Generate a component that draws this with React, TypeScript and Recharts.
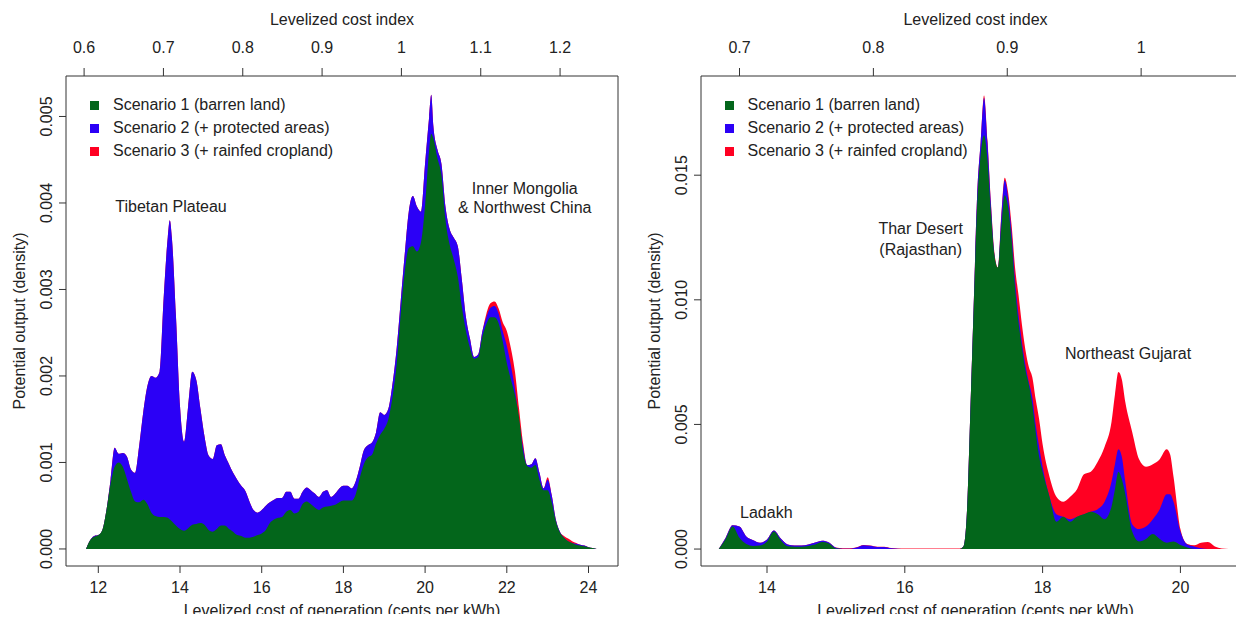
import React from 'react';
import { AreaChart, Area, XAxis, YAxis, Legend, ReferenceArea, ReferenceDot } from 'recharts';

// ---- China (left panel) ----
const chinaCost = [
  11.7, 11.8, 11.9, 12.0, 12.1, 12.2, 12.3, 12.4, 12.5, 12.6,
  12.7, 12.8, 12.9, 13.0, 13.1, 13.2, 13.3, 13.4, 13.5, 13.6,
  13.7, 13.75, 13.8, 13.9, 14.0, 14.1, 14.2, 14.3, 14.4, 14.5,
  14.6, 14.7, 14.8, 14.9, 15.0, 15.1, 15.2, 15.3, 15.4, 15.5,
  15.6, 15.7, 15.8, 15.9, 16.0, 16.1, 16.2, 16.3, 16.4, 16.5,
  16.6, 16.7, 16.8, 16.9, 17.0, 17.1, 17.2, 17.3, 17.4, 17.5,
  17.6, 17.7, 17.8, 17.9, 18.0, 18.1, 18.2, 18.3, 18.4, 18.5,
  18.6, 18.7, 18.8, 18.9, 19.0, 19.1, 19.2, 19.3, 19.4, 19.5,
  19.6, 19.7, 19.8, 19.9, 20.0, 20.1, 20.15, 20.2, 20.3, 20.4,
  20.5, 20.6, 20.7, 20.8, 20.9, 21.0, 21.1, 21.2, 21.3, 21.4,
  21.5, 21.6, 21.7, 21.8, 21.9, 22.0, 22.1, 22.2, 22.3, 22.4,
  22.5, 22.6, 22.7, 22.8, 22.9, 23.0, 23.1, 23.2, 23.3, 23.4,
  23.5, 23.6, 23.7, 23.8, 23.9, 24.0, 24.1, 24.2,
];
const chinaBarren = [
  0, 0.0001, 0.00014, 0.00016, 0.00022, 0.00045, 0.00075, 0.00095, 0.001, 0.00095,
  0.00081, 0.00066, 0.00055, 0.00054, 0.00057, 0.00052, 0.00042, 0.00038, 0.00037, 0.00037,
  0.00036, 0.00034, 0.00032, 0.00027, 0.00023, 0.00021, 0.00024, 0.00028, 0.00029, 0.0003,
  0.00028, 0.00022, 0.0002, 0.00023, 0.00027, 0.00027, 0.00023, 0.0002, 0.00016, 0.00015,
  0.00013, 0.00013, 0.00014, 0.00016, 0.00018, 0.00022, 0.0003, 0.00034, 0.00036, 0.00037,
  0.00043, 0.00045, 0.00041, 0.00043, 0.00052, 0.00055, 0.00052, 0.00048, 0.00045, 0.00048,
  0.00049, 0.0005, 0.00051, 0.00054, 0.00056, 0.00056, 0.00056, 0.00063, 0.00082, 0.00098,
  0.00106, 0.00109, 0.00122, 0.00132, 0.00139, 0.0015, 0.00175, 0.00212, 0.0027, 0.0032,
  0.00348, 0.0035, 0.00344, 0.00355, 0.00398, 0.00462, 0.0048, 0.00475, 0.00452, 0.00432,
  0.0038, 0.00352, 0.00335, 0.00315, 0.0028, 0.00252, 0.00232, 0.0022, 0.00222, 0.00245,
  0.0026, 0.00268, 0.00268, 0.00261, 0.0024, 0.00215, 0.00196, 0.00178, 0.00152, 0.00112,
  0.00096, 0.00094, 0.00097, 0.0008, 0.00068, 0.00068, 0.00054, 0.00032, 0.00019, 0.00013,
  0.00009, 0.00007, 0.00005, 0.00004, 0.00003, 0.00002, 0.00001, 0,
];
const chinaProtected = [
  0, 0.0001, 0.00015, 0.00016, 0.00022, 0.00045, 0.0008, 0.00117, 0.0011, 0.00111,
  0.00107, 0.00092, 0.00088, 0.00119, 0.00158, 0.00188, 0.002, 0.00198, 0.00205, 0.0029,
  0.0036, 0.0038, 0.0036, 0.0027, 0.00165, 0.00124, 0.00165, 0.00205, 0.00195, 0.00162,
  0.0013, 0.00108, 0.00104, 0.0012, 0.00121, 0.00108, 0.00098, 0.00088, 0.0008, 0.00073,
  0.00067, 0.00055, 0.00045, 0.00042, 0.00045, 0.0005, 0.00054, 0.00057, 0.00059, 0.00059,
  0.00066, 0.00066, 0.00058, 0.00058, 0.00066, 0.00071, 0.00068, 0.00064, 0.0006, 0.00066,
  0.00068, 0.0006, 0.00064, 0.0007, 0.00073, 0.00073, 0.0007, 0.00078, 0.00095, 0.00114,
  0.0012, 0.00123, 0.00135, 0.00158, 0.00155, 0.00162, 0.0019, 0.0023, 0.00285, 0.0034,
  0.0039, 0.00408, 0.00396, 0.0039, 0.00446, 0.005, 0.00525, 0.0049, 0.00462, 0.00445,
  0.00395, 0.0037, 0.0036, 0.0035, 0.00311, 0.00268, 0.00243, 0.00222, 0.00225, 0.00251,
  0.00268, 0.00279, 0.00281, 0.00272, 0.00252, 0.00235, 0.00212, 0.00185, 0.00148, 0.00117,
  0.00097, 0.00098, 0.00105, 0.00088, 0.0007, 0.0008, 0.00062, 0.00034, 0.0002, 0.00013,
  0.00009, 0.00007, 0.00006, 0.00005, 0.00004, 0.00002, 0.00001, 0,
];
const chinaCropland = [
  0, 0.0001, 0.00015, 0.00016, 0.00022, 0.00045, 0.0008, 0.00117, 0.0011, 0.00111,
  0.00107, 0.00092, 0.00088, 0.00119, 0.00158, 0.00188, 0.002, 0.00198, 0.00205, 0.0029,
  0.0036, 0.0038, 0.0036, 0.0027, 0.00165, 0.00124, 0.00165, 0.00205, 0.00195, 0.00162,
  0.0013, 0.00108, 0.00104, 0.0012, 0.00121, 0.00108, 0.00098, 0.00088, 0.0008, 0.00073,
  0.00067, 0.00055, 0.00045, 0.00042, 0.00045, 0.0005, 0.00054, 0.00057, 0.00059, 0.00059,
  0.00066, 0.00066, 0.00058, 0.00058, 0.00066, 0.00071, 0.00068, 0.00064, 0.0006, 0.00066,
  0.00068, 0.0006, 0.00064, 0.0007, 0.00073, 0.00073, 0.0007, 0.00078, 0.00095, 0.00114,
  0.0012, 0.00123, 0.00135, 0.00158, 0.00155, 0.00162, 0.0019, 0.0023, 0.00285, 0.0034,
  0.0039, 0.00408, 0.00396, 0.0039, 0.00446, 0.005, 0.00525, 0.0049, 0.00462, 0.00445,
  0.00395, 0.0037, 0.0036, 0.0035, 0.00311, 0.00268, 0.00243, 0.00222, 0.00225, 0.00251,
  0.00272, 0.00284, 0.00286, 0.00278, 0.00262, 0.00252, 0.00232, 0.00205, 0.00162, 0.00122,
  0.00097, 0.00098, 0.00105, 0.00088, 0.0007, 0.00083, 0.00062, 0.00034, 0.0002, 0.00015,
  0.00012, 0.00009, 0.00007, 0.00005, 0.00004, 0.00002, 0.00001, 0,
];

// ---- India (right panel) ----
const indiaCost = [
  13.3, 13.4, 13.5, 13.6, 13.7, 13.8, 13.9, 14.0, 14.1, 14.2,
  14.3, 14.4, 14.5, 14.6, 14.7, 14.8, 14.9, 15.0, 15.1, 15.2,
  15.3, 15.4, 15.5, 15.6, 15.7, 15.8, 15.9, 16.0,
  16.2, 16.4, 16.6, 16.8,
  16.85, 16.9, 16.95, 17.0, 17.05, 17.1, 17.15, 17.2, 17.25, 17.3,
  17.35, 17.4, 17.45, 17.5, 17.55, 17.6, 17.65, 17.7, 17.75, 17.8,
  17.85, 17.9, 17.95,
  18.0, 18.1, 18.2, 18.3, 18.4, 18.5, 18.6, 18.7, 18.8, 18.9, 19.0,
  19.05, 19.1, 19.15, 19.2,
  19.3, 19.4, 19.5, 19.6, 19.7, 19.8,
  19.85, 19.9,
  20.0, 20.1, 20.2, 20.3, 20.4, 20.5, 20.6, 20.7,
];
const indiaBarren = [
  0, 0.0004, 0.0009, 0.00045, 0.0002, 0.00012, 0.00014, 0.0003, 0.0007, 0.00035,
  0.00011, 0.00009, 0.00009, 0.00012, 0.00018, 0.00028, 0.00022, 0.00002, 0, 0,
  0, 0, 0, 0, 0, 0, 0, 0,
  0, 0, 0, 0,
  0.0001, 0.0014, 0.0054, 0.0097, 0.0138, 0.0158, 0.0166, 0.0156, 0.0135, 0.0118,
  0.0113, 0.0129, 0.0142, 0.0137, 0.0124, 0.0105, 0.0091, 0.0081, 0.0072, 0.0066,
  0.0058, 0.0047, 0.0037,
  0.0031, 0.0021, 0.0011, 0.0013, 0.0011, 0.0013, 0.0014, 0.0015, 0.0014, 0.0012, 0.0017,
  0.0024, 0.0031, 0.0028, 0.0022,
  0.0007, 0.0003, 0.0004, 0.0006, 0.0004, 0.00025,
  0.00028, 0.0003,
  0.00016, 0.00006, 0, 0, 0, 0, 0, 0,
];
const indiaProtected = [
  0, 0.00045, 0.00095, 0.0009, 0.0005, 0.00035, 0.00025, 0.00038, 0.00074, 0.00042,
  0.00018, 0.00014, 0.00014, 0.00018, 0.00026, 0.00033, 0.00026, 0.00005, 0.00001, 0.00001,
  0.00006, 0.00015, 0.00013, 0.00008, 0.00008, 0.00003, 0.00001, 0,
  0, 0, 0, 0,
  0.0001, 0.0014, 0.0054, 0.0098, 0.0142, 0.0163, 0.0181, 0.0163, 0.0138, 0.0118,
  0.0112, 0.0133, 0.0148, 0.0141, 0.0127, 0.0108, 0.0094, 0.0083, 0.0074, 0.0067,
  0.0061, 0.005, 0.0041,
  0.0033, 0.0021, 0.0014, 0.0013, 0.0012, 0.0013, 0.0014, 0.0015, 0.0016, 0.0019, 0.0027,
  0.0034, 0.004, 0.0037, 0.0027,
  0.001, 0.0008, 0.0009, 0.0012, 0.0016, 0.0022,
  0.0022, 0.0019,
  0.0007, 0.00018, 0.0001, 0.00003, 0, 0, 0, 0,
];
const indiaCropland = [
  0, 0.00045, 0.00095, 0.0009, 0.0005, 0.00035, 0.00025, 0.00038, 0.00074, 0.00042,
  0.00018, 0.00014, 0.00014, 0.00018, 0.00026, 0.00033, 0.00026, 0.00006, 0.00003, 0.00003,
  0.00007, 0.00016, 0.00014, 0.00009, 0.00009, 0.00004, 0.00002, 0.00002,
  0.00002, 0.00002, 0.00002, 0.00002,
  0.0001, 0.0014, 0.0054, 0.0098, 0.0142, 0.0163, 0.0182, 0.0164, 0.0139, 0.0119,
  0.0113, 0.0134, 0.0149, 0.0143, 0.013, 0.0113, 0.0102, 0.009, 0.008, 0.0073,
  0.0069, 0.006, 0.0052,
  0.0042, 0.0029, 0.0021, 0.0019, 0.0021, 0.0024, 0.003, 0.0031, 0.0035, 0.0041, 0.0051,
  0.0062, 0.0071, 0.0068, 0.0059,
  0.0047, 0.0036, 0.0033, 0.0034, 0.0036, 0.004,
  0.0038, 0.0029,
  0.0008, 0.0002, 0.00015, 0.00025, 0.00028, 0.0001, 0.00002, 0,
];

// axis ticks
const chinaCostTicks = [12, 14, 16, 18, 20, 22, 24];
const chinaDensityTicks = [0, 0.001, 0.002, 0.003, 0.004, 0.005];
const chinaIndexLabels = ['0.6', '0.7', '0.8', '0.9', '1', '1.1', '1.2'];
const chinaRefCost = 19.42; // cents/kWh at index = 1

const indiaCostTicks = [14, 16, 18, 20];
const indiaDensityTicks = [0, 0.005, 0.01, 0.015];
const indiaIndexLabels = ['0.7', '0.8', '0.9', '1'];
const indiaRefCost = 19.43;

const scenarioNames = [
  'Scenario 1 (barren land)',
  'Scenario 2 (+ protected areas)',
  'Scenario 3 (+ rainfed cropland)',
];

const chinaNotes = [
  { text: 'Tibetan Plateau', cost: 13.78, density: 0.00396 },
  { text: 'Inner Mongolia', cost: 22.44, density: 0.00417 },
  { text: '& Northwest China', cost: 22.44, density: 0.00395 },
];
const indiaNotes = [
  { text: 'Thar Desert', cost: 16.23, density: 0.01288 },
  { text: '(Rajasthan)', cost: 16.23, density: 0.01204 },
  { text: 'Northeast Gujarat', cost: 19.24, density: 0.00787 },
  { text: 'Ladakh', cost: 13.99, density: 0.00148 },
];

const GREEN = '#03661b';
const BLUE = '#2b00f6';
const RED = '#ff0022';
const INK = '#222';
const FRAME = '#333';
const FONT = '"Liberation Sans", Arial, Helvetica, sans-serif';
const CHART_H = 622;

const series = [
  { key: 's3', name: scenarioNames[2], color: RED },
  { key: 's2', name: scenarioNames[1], color: BLUE },
  { key: 's1', name: scenarioNames[0], color: GREEN },
];

function buildRows(cost: number[], s1: number[], s2: number[], s3: number[]) {
  return cost.map((c, i) => ({ cost: c, s1: s1[i], s2: s2[i], s3: s3[i] }));
}

function DensityTick(props: any) {
  const { x, y, payload, digits } = props;
  const bx = x - 4.5;
  return (
    <text x={bx} y={y} transform={`rotate(-90 ${bx} ${y})`} textAnchor="middle"
      fontSize={16} fill={INK} fontFamily={FONT}>
      {Number(payload.value).toFixed(digits)}
    </text>
  );
}

function LegendBox(props: any) {
  const items = [...(props.payload ?? [])].sort((a: any, b: any) =>
    String(a.value).localeCompare(String(b.value)));
  return (
    <div style={{ fontFamily: FONT, fontSize: 16, color: INK }}>
      {items.map((it: any) => {
        const s = series.find(d => d.key === it.dataKey);
        return (
          <div key={it.value} style={{ display: 'flex', alignItems: 'center', height: 23, whiteSpace: 'nowrap' }}>
            <span style={{ display: 'inline-block', width: 9, height: 9, background: s ? s.color : it.color, marginRight: 14 }} />
            <span>{it.value}</span>
          </div>
        );
      })}
    </div>
  );
}

interface PanelProps {
  width: number;
  yAxisWidth: number;
  rightMargin: number;
  xDomain: [number, number];
  yDomain: [number, number];
  costTicks: number[];
  densityTicks: number[];
  indexLabels: string[];
  refCost: number;
  rows: any[];
  notes: { text: string; cost: number; density: number }[];
  legendLeft: number;
}

function Panel(p: PanelProps) {
  const indexTicks = p.indexLabels.map(l => Number(l) * p.refCost);

  const topTitle = (lp: any) => {
    const vb = lp.viewBox;
    return <text x={vb.x + vb.width / 2} y={25} textAnchor="middle" fontSize={16} fill={INK} fontFamily={FONT}>Levelized cost index</text>;
  };
  const bottomTitle = (lp: any) => {
    const vb = lp.viewBox;
    return <text x={vb.x + vb.width / 2} y={CHART_H - 6} textAnchor="middle" fontSize={16} fill={INK} fontFamily={FONT}>Levelized cost of generation (cents per kWh)</text>;
  };
  const sideTitle = (lp: any) => {
    const vb = lp.viewBox;
    const tx = vb.x + vb.width - 41.5;
    const ty = vb.y + vb.height / 2;
    return <text x={tx} y={ty} transform={`rotate(-90 ${tx} ${ty})`} textAnchor="middle" fontSize={16} fill={INK} fontFamily={FONT}>Potential output (density)</text>;
  };

  return (
    <AreaChart width={p.width} height={CHART_H} data={p.rows}
      margin={{ top: 0, right: p.rightMargin, bottom: 0, left: 0 }}>
      <XAxis xAxisId="bottom" dataKey="cost" type="number" domain={p.xDomain} allowDataOverflow
        ticks={p.costTicks} interval={0} height={56} tickSize={7} tickMargin={9}
        axisLine={false} tickLine={{ stroke: FRAME }}
        tick={{ fontSize: 16, fill: INK, fontFamily: FONT }} label={bottomTitle} />
      <XAxis xAxisId="top" orientation="top" dataKey="cost" type="number" domain={p.xDomain} allowDataOverflow
        ticks={indexTicks} interval={0} tickFormatter={(v: number, i: number) => p.indexLabels[i]}
        height={76} tickSize={8} tickMargin={15}
        axisLine={false} tickLine={{ stroke: FRAME }}
        tick={{ fontSize: 16, fill: INK, fontFamily: FONT }} label={topTitle} />
      <YAxis yAxisId="d" type="number" domain={p.yDomain} allowDataOverflow
        ticks={p.densityTicks} interval={0} width={p.yAxisWidth} tickSize={7}
        axisLine={false} tickLine={{ stroke: FRAME }}
        tick={(tp: any) => <DensityTick {...tp} digits={3} />} label={sideTitle} />

      {series.map(s => (
        <Area key={s.key} xAxisId="bottom" yAxisId="d" dataKey={s.key} name={s.name}
          type="monotone" baseValue={0} stroke="none" fill={s.color} fillOpacity={1}
          dot={false} activeDot={false} isAnimationActive={false} />
      ))}

      <ReferenceArea xAxisId="bottom" yAxisId="d" x1={p.xDomain[0]} x2={p.xDomain[1]}
        y1={p.yDomain[0]} y2={p.yDomain[1]} fill="none" stroke={FRAME} strokeWidth={1}
        ifOverflow="visible" />

      {p.notes.map(n => (
        <ReferenceDot key={n.text} xAxisId="bottom" yAxisId="d" x={n.cost} y={n.density}
          ifOverflow="visible"
          shape={(sp: any) => (
            <text x={sp.cx} y={sp.cy} dy="0.36em" textAnchor="middle" fontSize={16}
              fill={INK} fontFamily={FONT}>{n.text}</text>
          )} />
      ))}

      <Legend layout="vertical" align="center" verticalAlign="middle"
        wrapperStyle={{ left: p.legendLeft, top: 93.5, width: 'auto', height: 'auto' }}
        content={(lp: any) => <LegendBox {...lp} />} />
    </AreaChart>
  );
}

export default function App() {
  const chinaRows = buildRows(chinaCost, chinaBarren, chinaProtected, chinaCropland);
  const indiaRows = buildRows(indiaCost, indiaBarren, indiaProtected, indiaCropland);

  return (
    <div style={{ position: 'relative', width: 1244, height: 622, margin: -8, overflow: 'hidden', background: '#fff', fontFamily: FONT }}>
      <div style={{ position: 'absolute', left: 0, top: 0 }}>
        <Panel width={622} yAxisWidth={66} rightMargin={4}
          xDomain={[11.209, 24.722]} yDomain={[-0.000197, 0.005468]}
          costTicks={chinaCostTicks} densityTicks={chinaDensityTicks}
          indexLabels={chinaIndexLabels} refCost={chinaRefCost}
          rows={chinaRows} notes={chinaNotes} legendLeft={90} />
      </div>
      <div style={{ position: 'absolute', left: 622, top: 0 }}>
        <Panel width={628} yAxisWidth={79} rightMargin={0}
          xDomain={[13.042, 21.01]} yDomain={[-0.00068, 0.01898]}
          costTicks={indiaCostTicks} densityTicks={indiaDensityTicks}
          indexLabels={indiaIndexLabels} refCost={indiaRefCost}
          rows={indiaRows} notes={indiaNotes} legendLeft={102.5} />
      </div>
    </div>
  );
}
